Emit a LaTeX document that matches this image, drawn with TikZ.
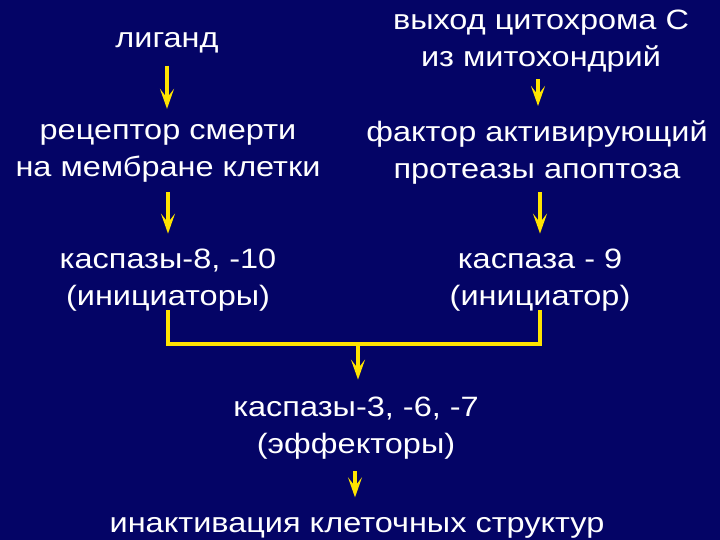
\documentclass[tikz,border=0pt]{standalone}
\usepackage{fontspec}
\setmainfont{Liberation Sans}[FakeStretch=1.16]
\usetikzlibrary{positioning}
\usetikzlibrary{arrows.meta}
\definecolor{slidebg}{RGB}{4,4,102}
\definecolor{arrowyellow}{RGB}{255,228,0}
\tikzset{ %styles for the cascade
  stage/.style={text=white, align=center, font=\fontsize{28}{37}\selectfont, inner sep=0pt},
  flow/.style={draw=arrowyellow, line width=4pt,
    -{Stealth[length=20pt, width=14pt, inset=9pt, fill=arrowyellow]}},
  bracketline/.style={draw=arrowyellow, line width=4pt}
}

\begin{document}
\begin{tikzpicture}[x=1pt,y=-1pt]
\fill[slidebg] (0,0) rectangle (720,540);

\node[stage] (ligand) at (167,43) {лиганд};
\node[stage] (cyto) at (541,41) {выход цитохрома С\\из митохондрий};
\node[stage] (receptor) at (168,153) {рецептор смерти\\на мембране клетки};
\node[stage] (apaf) at (537,153) {фактор активирующий\\протеазы апоптоза};
\node[stage] (casp8) at (168,280) {каспазы-8, -10\\(инициаторы)};
\node[stage] (casp9) at (540,280) {каспаза - 9\\(инициатор)};
\node[stage] (casp3) at (356,428) {каспазы-3, -6, -7\\(эффекторы)};
\node[stage] (inact) at (357,528) {инактивация клеточных структур};

\coordinate (jl) at (168,344);
\coordinate (jr) at (540,344);
\coordinate (jm) at (358,344);

\draw[flow, shorten <=12pt, shorten >=15pt] (ligand) -- (ligand |- receptor.north);
\draw[flow, shorten <=7pt, shorten >=15pt] (cyto.south -| 538,0) -- (apaf.north -| 538,0);
\draw[flow, shorten <=10pt, shorten >=15pt] (receptor) -- (casp8);
\draw[flow, shorten <=7pt, shorten >=15pt] (casp9 |- apaf.south) -- (casp9);
\draw[bracketline] ([yshift=1pt]casp8.south) -- (jl) -- (jr) -- ([yshift=1pt]casp9.south);
\draw[flow, shorten >=17pt] (jm) -- (jm |- casp3.north);
\draw[flow, shorten <=12pt, shorten >=20pt] (casp3.south -| 355,0) -- (inact.north -| 355,0);
\end{tikzpicture}
\end{document}
